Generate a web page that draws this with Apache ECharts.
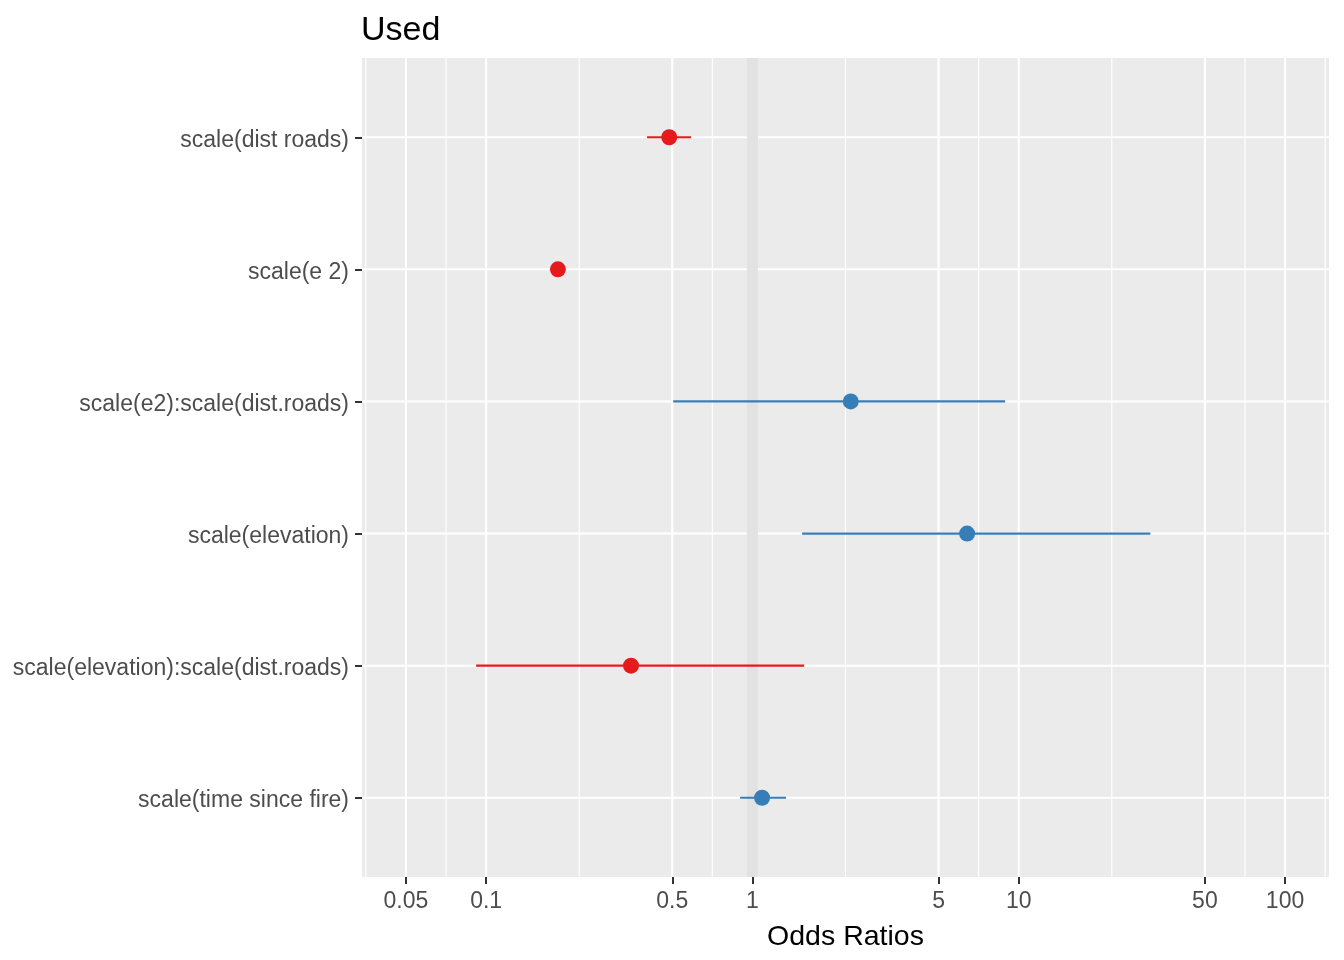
<!DOCTYPE html>
<html>
<head>
<meta charset="utf-8">
<script src="https://cdn.jsdelivr.net/npm/echarts@6/dist/echarts.min.js"></script>
<style>
html,body{margin:0;padding:0;background:#fff;}
#chart{width:1344px;height:960px;}
</style>
</head>
<body>
<div id="chart"></div>
<script>
// ---- data ----
const terms = [
  'scale(dist roads)',
  'scale(e 2)',
  'scale(e2):scale(dist.roads)',
  'scale(elevation)',
  'scale(elevation):scale(dist.roads)',
  'scale(time since fire)'
];
const oddsRatios = [0.487, 0.186, 2.34, 6.40, 0.350, 1.087];
const ciLow      = [0.402, 0.182, 0.504, 1.537, 0.0917, 0.899];
const ciHigh     = [0.588, 0.190, 8.89, 31.2, 1.564, 1.338];
const xTickValues = [0.05, 0.1, 0.5, 1, 5, 10, 50, 100];
const xTickLabels = ['0.05', '0.1', '0.5', '1', '5', '10', '50', '100'];
const titleText = 'Used';
const xAxisTitle = 'Odds Ratios';

// ---- derived ----
const RED = '#E41A1C', BLUE = '#377EB8';
const L = Math.log10;
const majorLog = xTickValues.map(L);
const lo = majorLog[0], hi = majorLog[majorLog.length - 1];
const span = hi - lo;
const xMin = lo - 0.05 * span, xMax = hi + 0.05 * span;
// minor breaks like ggplot (midpoints, extended one break each side)
const bd = majorLog[1] - majorLog[0];
const ext = [majorLog[0] - bd].concat(majorLog, [hi + bd]);
const minorLog = [];
for (let i = 0; i < ext.length - 1; i++) {
  const m = (ext[i] + ext[i + 1]) / 2;
  if (m > xMin && m < xMax) minorLog.push(m);
}
const yVals = terms.map((t, i) => i + 1);
const colorOf = i => oddsRatios[i] > 1 ? BLUE : RED;

function vLine(width, color) {
  return function (params, api) {
    const cs = params.coordSys;
    const p = api.coord([api.value(0), 1]);
    return {
      type: 'line',
      shape: { x1: p[0], y1: cs.y, x2: p[0], y2: cs.y + cs.height },
      style: { stroke: color, lineWidth: width }
    };
  };
}
function hLine(params, api) {
  const cs = params.coordSys;
  const p = api.coord([0, api.value(0)]);
  return {
    type: 'line',
    shape: { x1: cs.x, y1: p[1], x2: cs.x + cs.width, y2: p[1] },
    style: { stroke: '#FFFFFF', lineWidth: 2 }
  };
}

const chart = echarts.init(document.getElementById('chart'), null, { renderer: 'canvas' });
const FONT = 'Liberation Sans, Arial, sans-serif';
chart.setOption({
  animation: false,
  backgroundColor: '#FFFFFF',
  title: {
    text: titleText,
    left: 361,
    top: 14,
    padding: 0,
    textStyle: { fontFamily: FONT, fontSize: 34, fontWeight: 'normal', color: '#000000' }
  },
  grid: {
    left: 362, right: 15, top: 58, bottom: 83,
    show: true, backgroundColor: '#EBEBEB', borderWidth: 0, containLabel: false
  },
  xAxis: {
    type: 'value',
    min: xMin, max: xMax,
    name: xAxisTitle,
    nameLocation: 'middle',
    nameGap: 46,
    nameTextStyle: { fontFamily: FONT, fontSize: 28.5, color: '#000000' },
    axisLine: { show: false, onZero: false },
    splitLine: { show: false },
    axisTick: {
      show: true, length: 7, inside: false,
      customValues: majorLog,
      lineStyle: { color: '#333333', width: 2 }
    },
    axisLabel: {
      margin: 13,
      customValues: majorLog,
      fontFamily: FONT, fontSize: 23, color: '#4D4D4D',
      formatter: function (v) {
        let best = 0;
        majorLog.forEach((m, i) => { if (Math.abs(m - v) < Math.abs(majorLog[best] - v)) best = i; });
        return xTickLabels[best];
      }
    }
  },
  yAxis: {
    type: 'value',
    min: 0.4, max: 6.6,
    inverse: true,
    axisLine: { show: false, onZero: false },
    splitLine: { show: false },
    axisTick: {
      show: true, length: 7, inside: false,
      customValues: yVals,
      lineStyle: { color: '#333333', width: 2 }
    },
    axisLabel: {
      margin: 13,
      verticalAlign: 'top',
      lineHeight: 6,
      customValues: yVals,
      fontFamily: FONT, fontSize: 23, color: '#4D4D4D',
      formatter: function (v) { return terms[Math.round(v) - 1] || ''; }
    }
  },
  series: [
    { type: 'custom', z: 1, silent: true, data: minorLog.map(v => [v]), renderItem: vLine(1.1, '#FFFFFF'), clip: true },
    { type: 'custom', z: 1, silent: true, data: majorLog.map(v => [v]), renderItem: vLine(2.1, '#FFFFFF'), clip: true },
    { type: 'custom', z: 1, silent: true, data: yVals.map(v => [v]), renderItem: hLine, clip: true },
    { type: 'custom', z: 2, silent: true, data: [[L(1)]], renderItem: vLine(11, '#E2E2E2'), clip: true },
    {
      type: 'custom', z: 3, silent: true,
      data: terms.map((t, i) => ({ value: [i + 1, L(ciLow[i]), L(ciHigh[i])], itemStyle: { color: colorOf(i) } })),
      renderItem: function (params, api) {
        const y = api.value(0);
        const a = api.coord([api.value(1), y]);
        const b = api.coord([api.value(2), y]);
        return {
          type: 'line',
          shape: { x1: a[0], y1: a[1], x2: b[0], y2: b[1] },
          style: { stroke: api.visual('color'), lineWidth: 2.2 }
        };
      }
    },
    {
      type: 'scatter', z: 4, silent: true,
      symbol: 'circle', symbolSize: 16,
      data: terms.map((t, i) => ({ value: [L(oddsRatios[i]), i + 1], itemStyle: { color: colorOf(i), opacity: 1 } }))
    }
  ]
});
</script>
</body>
</html>
